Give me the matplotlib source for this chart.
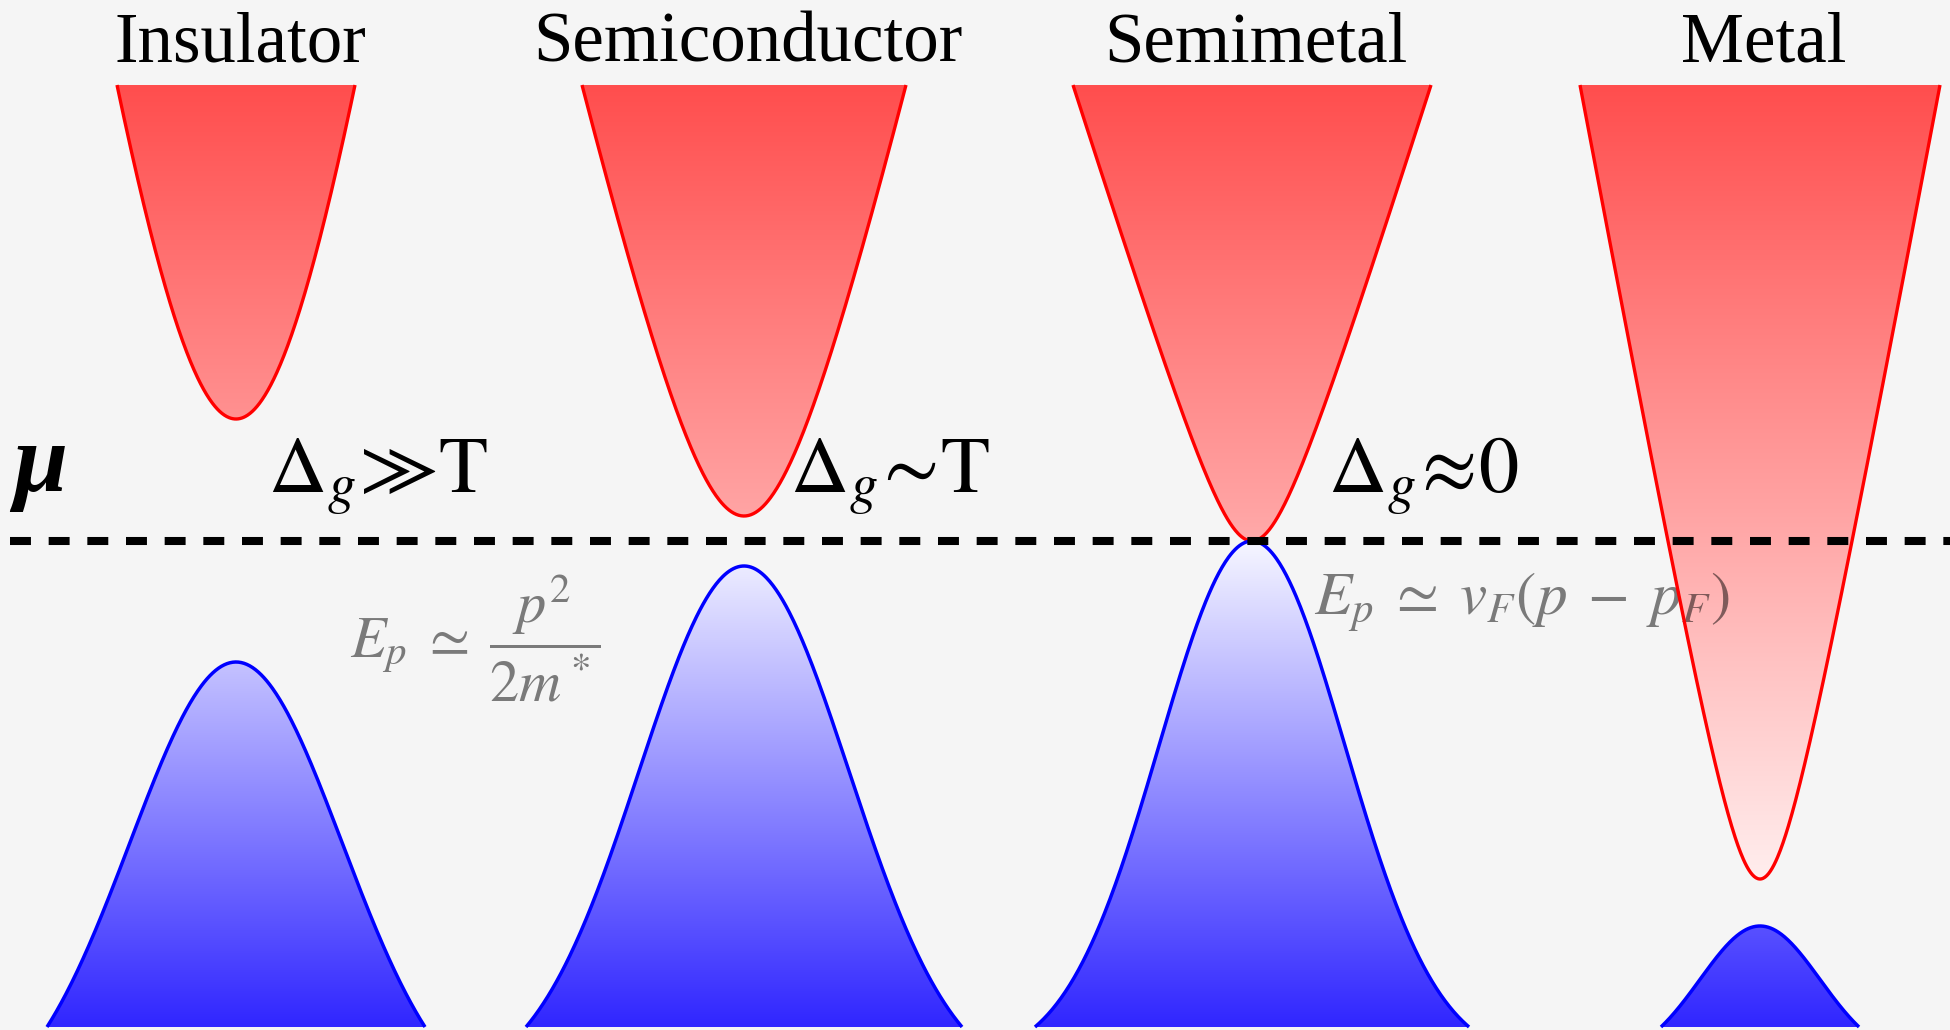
import numpy as np
import matplotlib
matplotlib.use("Agg")
import matplotlib.pyplot as plt
from matplotlib.colors import LinearSegmentedColormap
from matplotlib.patches import Polygon

plt.rcParams['mathtext.fontset'] = 'stix'

# Band parameters (momentum axis horizontal, energy axis vertical, mu = 0)
materials = ["Insulator", "Semiconductor", "Semimetal", "Metal"]
band_center = [236, 744, 1252, 1760]
cb_bottom = [122, 25, 0, -338]
cb_top = 456
cb_halfwidth = [119, 162, 179, 180]
cb_rounding = [115, 80, 40, 36]
vb_top = [-121, -25, 0, -385]
vb_floor = -486
vb_halfwidth = [189, 218, 217, 99]
vb_sigma = [106, 105, 93, 60]

gap_labels = [r'$\Delta_g\!{\gg}\!\mathrm{T}$',
              r'$\Delta_g\!{\sim}\!\mathrm{T}$',
              r'$\Delta_g\!{\approx}\!0$']
gap_label_x = [268, 790, 1328]
gap_label_y = 49

K_MIN, K_MAX = 0, 1950
E_MIN, E_MAX = -489, 541

fig = plt.figure(figsize=(19.5, 10.3), dpi=100)
fig.patch.set_facecolor('#f5f5f5')
ax = fig.add_axes([0, 0, 1, 1])
ax.set_facecolor('#f5f5f5')
ax.axis('off')

red_cmap = LinearSegmentedColormap.from_list('cb', ['#fffafa', '#ff4e4e'])
blue_cmap = LinearSegmentedColormap.from_list('vb', ['#3026ff', '#f6f6ff'])
ramp = np.linspace(0, 1, 512).reshape(-1, 1)


def gradient_fill(poly_xy, cmap, e_lo, e_hi, z):
    patch = Polygon(poly_xy, closed=True, facecolor='none', edgecolor='none')
    ax.add_patch(patch)
    im = ax.imshow(ramp, cmap=cmap, origin='lower', aspect='auto',
                   extent=[K_MIN, K_MAX, e_lo, e_hi], zorder=z,
                   interpolation='bilinear')
    im.set_clip_path(patch)


for i in range(4):
    k0 = band_center[i]
    # conduction band: rounded cone
    W, r = cb_halfwidth[i], cb_rounding[i]
    s = (cb_top - cb_bottom[i]) / (np.sqrt(W**2 + r**2) - r)
    dk = np.linspace(-W, W, 400)
    e_cb = cb_bottom[i] + s * (np.sqrt(dk**2 + r**2) - r)
    gradient_fill(np.column_stack([k0 + dk, e_cb]), red_cmap, -400, cb_top, 2)
    ax.plot(k0 + dk, e_cb, color='#ff0000', lw=2.4, zorder=4,
            solid_capstyle='butt')

    # valence band: bell-shaped
    Wv, sg = vb_halfwidth[i], vb_sigma[i]
    D = (vb_top[i] - vb_floor) / (1 - np.exp(-Wv**2 / (2 * sg**2)))
    dk = np.linspace(-Wv, Wv, 400)
    e_vb = vb_top[i] - D * (1 - np.exp(-dk**2 / (2 * sg**2)))
    poly = np.column_stack([np.r_[k0 + dk, k0 + Wv, k0 - Wv],
                            np.r_[e_vb, vb_floor, vb_floor]])
    gradient_fill(poly, blue_cmap, vb_floor, 0, 2)
    ax.plot(k0 + dk, e_vb, color='#0000ff', lw=2.5, zorder=4,
            solid_capstyle='butt')

    ax.text(k0 + 4, 479, materials[i], ha='center', va='baseline',
            fontsize=51, family='Liberation Serif', color='black', zorder=6)

# chemical potential
ax.plot([10, K_MAX], [0, 0], color='black', lw=5.8, dashes=(2.6, 2.2),
        solid_capstyle='butt', dash_capstyle='butt', zorder=5)
ax.text(13, 50, 'μ', ha='left', va='baseline', fontsize=70,
        family='Liberation Serif', fontweight='bold', fontstyle='italic',
        color='black', zorder=6)

for lbl, x in zip(gap_labels, gap_label_x):
    ax.text(x, gap_label_y, lbl, ha='left', va='baseline', fontsize=58,
            color='black', zorder=6)

ax.text(350, -116, r'$E_p\;\simeq\;\dfrac{p^2}{2m^*}$', ha='left',
        va='baseline', fontsize=42, color='black', alpha=0.5, zorder=3)
ax.text(1314, -74, r'$E_p\;\simeq\;v_F(p\;-\;p_F)$', ha='left',
        va='baseline', fontsize=44, color='black', alpha=0.5, zorder=3)

ax.set_xlim(K_MIN, K_MAX)
ax.set_ylim(E_MIN, E_MAX)
fig.savefig('out.png', dpi=100, facecolor=fig.get_facecolor())
